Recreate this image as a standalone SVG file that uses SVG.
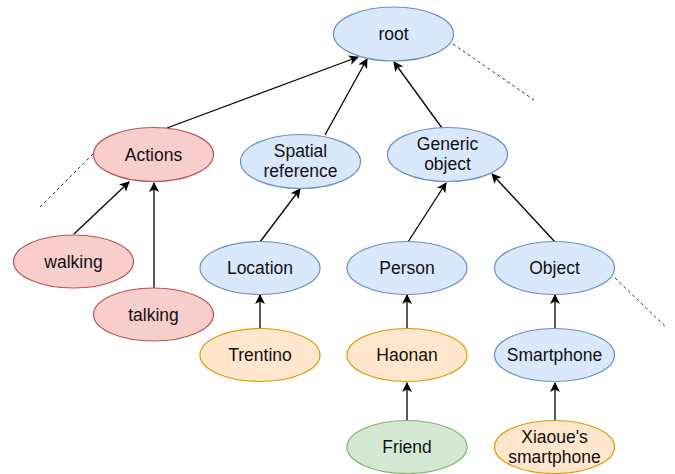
<svg xmlns="http://www.w3.org/2000/svg" width="675" height="474" viewBox="0 0 675 474">
<style>
.n ellipse{stroke-width:1.2}
.blue{fill:#dae8fc;stroke:#6c8ebf}
.red{fill:#f8cecc;stroke:#b85450}
.org{fill:#ffe6cc;stroke:#d79b00}
.grn{fill:#d5e8d4;stroke:#82b366}
text{font-family:"Liberation Sans",Arial,sans-serif;font-size:17.5px;fill:#111;text-anchor:middle;dominant-baseline:central}
.e{stroke:#000;stroke-width:1.3;fill:none;marker-end:url(#a)}
.d{stroke:#333;stroke-width:1;fill:none;stroke-dasharray:3 3}
</style>
<defs>
<marker id="a" viewBox="0 0 10 10" refX="9" refY="5" markerWidth="10" markerHeight="10" markerUnits="userSpaceOnUse" orient="auto">
<path d="M0,0 L10,5 L0,10 L2.5,5 Z" fill="#000"/>
</marker>
</defs>
<rect width="675" height="474" fill="#fff"/>
<g id="connectors">
<line class="e" x1="167" y1="128" x2="358" y2="57"/>
<line class="e" x1="325" y1="135" x2="367" y2="59"/>
<line class="e" x1="442" y1="128" x2="394" y2="62"/>
<line class="e" x1="74" y1="234" x2="129" y2="182"/>
<line class="e" x1="154" y1="288" x2="154" y2="183"/>
<line class="e" x1="260" y1="242" x2="300" y2="189"/>
<line class="e" x1="408" y1="242" x2="446" y2="183"/>
<line class="e" x1="555" y1="242" x2="492" y2="174"/>
<line class="e" x1="260" y1="328" x2="260" y2="295"/>
<line class="e" x1="407" y1="328" x2="407" y2="295"/>
<line class="e" x1="407" y1="420" x2="407" y2="383"/>
<line class="e" x1="555" y1="328" x2="555" y2="295"/>
<line class="e" x1="555" y1="420" x2="555" y2="383"/>
<line class="d" x1="453" y1="44" x2="534" y2="100"/>
<line class="d" x1="93" y1="154" x2="39" y2="208"/>
<line class="d" x1="615" y1="278" x2="667" y2="328"/>
</g>
<g id="root" class="n"><ellipse class="blue" cx="393.5" cy="34" rx="60" ry="27"/><text x="393.5" y="34">root</text></g>
<g id="actions" class="n"><ellipse class="red" cx="153.5" cy="154.5" rx="60" ry="27"/><text x="153.5" y="154.5">Actions</text></g>
<g id="spatial" class="n"><ellipse class="blue" cx="300.5" cy="161.5" rx="60" ry="27"/><text x="300.5" y="151">Spatial</text><text x="300.5" y="171">reference</text></g>
<g id="generic" class="n"><ellipse class="blue" cx="447.5" cy="154.5" rx="60" ry="27"/><text x="447.5" y="144">Generic</text><text x="447.5" y="164">object</text></g>
<g id="walking" class="n"><ellipse class="red" cx="73.5" cy="261.5" rx="60" ry="26.5"/><text x="73.5" y="261.5">walking</text></g>
<g id="talking" class="n"><ellipse class="red" cx="153.5" cy="314.5" rx="60" ry="26.5"/><text x="153.5" y="314.5">talking</text></g>
<g id="location" class="n"><ellipse class="blue" cx="260" cy="268" rx="60" ry="26.5"/><text x="260" y="268">Location</text></g>
<g id="person" class="n"><ellipse class="blue" cx="407" cy="268" rx="60" ry="26.5"/><text x="407" y="268">Person</text></g>
<g id="object" class="n"><ellipse class="blue" cx="554.5" cy="268" rx="60" ry="26.5"/><text x="554.5" y="268">Object</text></g>
<g id="trentino" class="n"><ellipse class="org" cx="260" cy="355" rx="60" ry="26.5"/><text x="260" y="355">Trentino</text></g>
<g id="haonan" class="n"><ellipse class="org" cx="407" cy="355" rx="60" ry="26.5"/><text x="407" y="355">Haonan</text></g>
<g id="smartphone" class="n"><ellipse class="blue" cx="554.5" cy="355" rx="60" ry="26.5"/><text x="554.5" y="355">Smartphone</text></g>
<g id="friend" class="n"><ellipse class="grn" cx="407" cy="447" rx="60" ry="26.5"/><text x="407" y="447">Friend</text></g>
<g id="xiaoue" class="n"><ellipse class="org" cx="554.5" cy="447" rx="60" ry="26.5"/><text x="554.5" y="436.5">Xiaoue's</text><text x="554.5" y="457">smartphone</text></g>
</svg>
